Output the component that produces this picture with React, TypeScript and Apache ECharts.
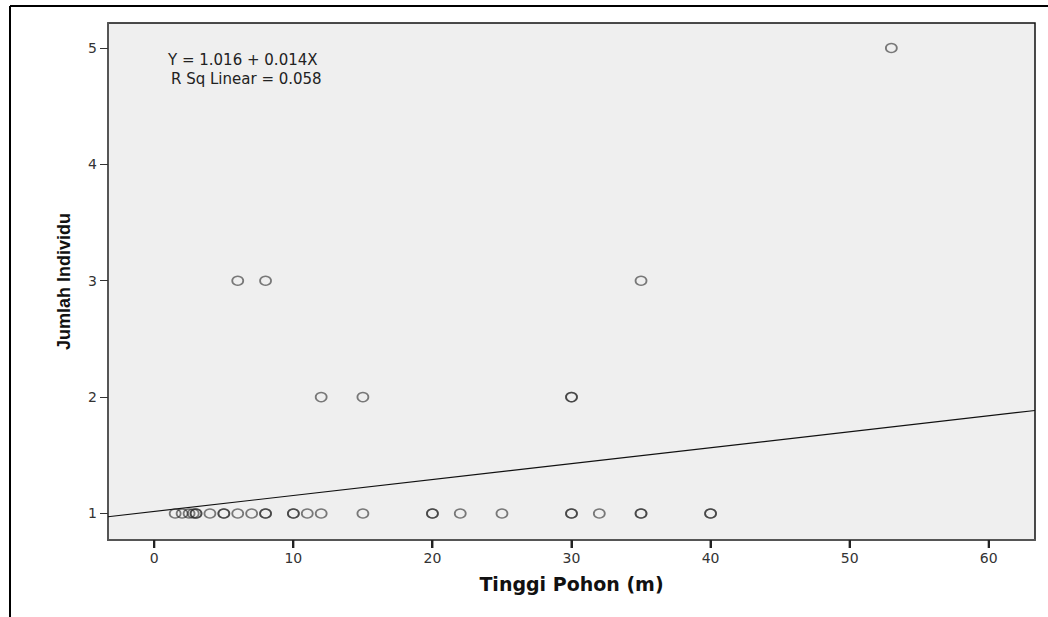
import React, { useEffect, useRef } from "react";
import * as echarts from "echarts";

const xTicks = [0, 10, 20, 30, 40, 50, 60];
const yTicks = [1, 2, 3, 4, 5];

// Tinggi Pohon (m) vs Jumlah Individu — repeated entries are overlapping observations
const treeHeight = [
  1.5, 2, 2.5, 2.8, 3, 3, 4, 5, 5, 6, 7, 8, 8, 10, 10, 11, 12, 15, 20, 20, 22, 25, 30, 30, 32, 35, 35, 40, 40,
  12, 15, 30, 30,
  6, 8, 35,
  53,
];
const individuals = [
  1, 1, 1, 1, 1, 1, 1, 1, 1, 1, 1, 1, 1, 1, 1, 1, 1, 1, 1, 1, 1, 1, 1, 1, 1, 1, 1, 1, 1,
  2, 2, 2, 2,
  3, 3, 3,
  5,
];

const fitX = [-3.33, 63.33];
const fitY = [0.972, 1.885];

const X_MIN = -3.33;
const X_MAX = 63.33;
const Y_MIN = 0.772;
const Y_MAX = 5.215;

const equationText = "Y = 1.016 + 0.014X";
const rSquareText = "R Sq Linear = 0.058";

const FONT = "'DejaVu Sans', 'Liberation Sans', Arial, sans-serif";
const ARIAL = "'Liberation Sans', Arial, sans-serif";

const GRID = { left: 108, right: 13, top: 23, bottom: 77 };
const W = 1048;
const H = 617;

export default function App() {
  const ref = useRef<HTMLDivElement>(null);
  useEffect(() => {
    if (!ref.current) return;
    const chart = echarts.init(ref.current, undefined, { renderer: "svg" });
    chart.setOption({
      animation: false,
      backgroundColor: "#ffffff",
      textStyle: { fontFamily: FONT },
      grid: {
        ...GRID,
        show: true,
        backgroundColor: "#efefef",
        borderColor: "#111",
        borderWidth: 1.5,
      },
      xAxis: {
        type: "value",
        min: X_MIN,
        max: X_MAX,
        name: "Tinggi Pohon (m)",
        nameLocation: "middle",
        nameGap: 34,
        nameTextStyle: { fontFamily: FONT, fontSize: 19, fontWeight: "bold", color: "#111" },
        splitLine: { show: false },
        axisLine: { show: true, onZero: false, lineStyle: { color: "#555", width: 2 } },
        axisTick: { show: false },
        axisLabel: { color: "#333", fontSize: 14, margin: 11, fontFamily: FONT, customValues: xTicks },
      },
      yAxis: {
        type: "value",
        min: Y_MIN,
        max: Y_MAX,
        name: "Jumlah Individu",
        nameLocation: "middle",
        nameGap: 35,
        nameTextStyle: { fontFamily: ARIAL, fontSize: 18, fontWeight: "bold", color: "#111" },
        splitLine: { show: false },
        axisLine: { show: true, onZero: false, lineStyle: { color: "#555", width: 2 } },
        axisTick: { show: true, length: 8, lineStyle: { color: "#333", width: 1 }, customValues: yTicks },
        axisLabel: { color: "#333", fontSize: 14, margin: 11, fontFamily: FONT, customValues: yTicks },
      },
      series: [
        {
          type: "line",
          data: fitX.map((x, i) => [x, fitY[i]]),
          symbol: "none",
          lineStyle: { color: "#111", width: 1.2 },
          silent: true,
          z: 2,
        },
        {
          type: "scatter",
          data: treeHeight.map((x, i) => [x, individuals[i]]),
          symbol: "circle",
          symbolSize: [11, 9],
          itemStyle: { color: "rgba(0,0,0,0)", borderColor: "rgba(40,40,40,0.75)", borderWidth: 1.6 },
          z: 3,
        },
        {
          // x-axis tick marks drawn through the axis scale
          type: "custom",
          clip: false,
          silent: true,
          z: 20,
          data: xTicks.map((v) => [v, Y_MIN]),
          renderItem: (params: any, api: any) => {
            const p = api.coord([api.value(0), api.value(1)]);
            return {
              type: "rect",
              shape: { x: p[0] - 1, y: p[1], width: 2, height: 8 },
              style: { fill: "#222" },
            };
          },
        },
      ],
    });
    const plotW = W - GRID.left - GRID.right;
    const axisY = H - GRID.bottom;
    const tickEls = xTicks.map((v) => {
      let px = Number(chart.convertToPixel({ xAxisIndex: 0 }, v));
      if (!isFinite(px)) px = GRID.left + ((v - X_MIN) / (X_MAX - X_MIN)) * plotW;
      return {
        type: "rect",
        shape: { x: Math.round(px) - 1, y: axisY, width: 2, height: 8 },
        style: { fill: "#222" },
        z: 100,
      };
    });
    chart.setOption({
      graphic: [
        { type: "line", shape: { x1: 10, y1: 6, x2: 1048, y2: 6 }, style: { stroke: "#000", lineWidth: 2 } },
        { type: "line", shape: { x1: 10, y1: 6, x2: 10, y2: 617 }, style: { stroke: "#000", lineWidth: 2 } },
        {
          type: "text",
          left: 168,
          top: 52,
          style: { text: equationText, font: `15px ${FONT}`, fill: "#222" },
          z: 10,
        },
        {
          type: "text",
          left: 171,
          top: 71,
          style: { text: rSquareText, font: `15px ${FONT}`, fill: "#222" },
          z: 10,
        },
        ...tickEls,
      ],
    });
    return () => chart.dispose();
  }, []);
  return (
    <div
      ref={ref}
      style={{ position: "fixed", left: 0, top: 0, width: W, height: H, background: "#fff" }}
    />
  );
}
